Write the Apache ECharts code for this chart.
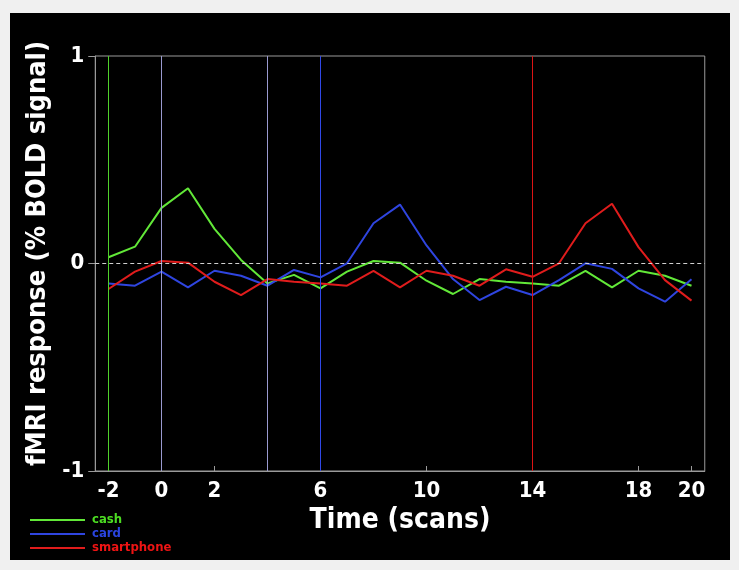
<!DOCTYPE html>
<html>
<head>
<meta charset="utf-8">
<script src="https://cdn.jsdelivr.net/npm/echarts@6/dist/echarts.min.js"></script>
<style>
  html, body { margin: 0; padding: 0; background: #f0f0f0; }
  #chart { position: absolute; left: 10px; top: 13px; width: 720px; height: 547px; background: #000; }
</style>
</head>
<body>
<div id="chart"></div>
<script>
// Time points (scans)
var times = [-2, -1, 0, 1, 2, 3, 4, 5, 6, 7, 8, 9, 10, 11, 12, 13, 14, 15, 16, 17, 18, 19, 20];
// fMRI responses (% BOLD signal)
var cash = [0.03, 0.081, 0.268, 0.363, 0.167, 0.017, -0.096, -0.055, -0.12, -0.039, 0.012, 0.004, -0.083, -0.147, -0.075, -0.088, -0.096, -0.107, -0.036, -0.115, -0.035, -0.059, -0.107];
var card = [-0.096, -0.107, -0.039, -0.115, -0.035, -0.059, -0.107, -0.031, -0.067, 0.001, 0.194, 0.284, 0.087, -0.075, -0.176, -0.112, -0.152, -0.08, 0.001, -0.026, -0.12, -0.184, -0.076];
var smartphone = [-0.123, -0.039, 0.012, 0.004, -0.088, -0.152, -0.075, -0.088, -0.096, -0.107, -0.036, -0.115, -0.035, -0.059, -0.107, -0.028, -0.064, 0.001, 0.194, 0.288, 0.079, -0.08, -0.179];
// Event markers (vertical lines)
var markerTimes = [-2, 0, 4, 6, 14];
var markerColors = ['#4fd22a', '#9a9ad0', '#9a9ad0', '#3048e8', '#dc1414'];
// Tick labels
var xTicks = [-2, 0, 2, 6, 10, 14, 18, 20];
var seriesNames = ['cash', 'card', 'smartphone'];
var seriesColors = ['#62e838', '#2f45e0', '#e01c1c'];
var legendTextColors = ['#4cdc22', '#2a44e0', '#ee1414'];

function pairs(ys) { return times.map(function (t, i) { return [t, ys[i]]; }); }

var FONT = '"DejaVu Sans Condensed", "DejaVu Sans", sans-serif';
var chart = echarts.init(document.getElementById('chart'));

var markData = markerTimes.map(function (t, i) {
  return { xAxis: t, lineStyle: { color: markerColors[i], width: 1, type: 'solid' } };
});
markData.push({ yAxis: 0, lineStyle: { color: '#d0d0d0', width: 1, type: [4, 3] } });

var dataSeries = [cash, card, smartphone].map(function (ys, i) {
  return {
    name: seriesNames[i], type: 'line', data: pairs(ys), symbol: 'none', z: 3,
    lineStyle: { color: seriesColors[i], width: 2 }, itemStyle: { color: seriesColors[i] }
  };
});

chart.setOption({
  animation: false,
  backgroundColor: '#000',
  grid: { left: 85.25, right: 25.25, top: 43, bottom: 89, show: true, borderColor: '#9a9a9a', borderWidth: 1, backgroundColor: 'transparent' },
  legend: {
    orient: 'vertical', left: 20, top: 500, padding: 0, itemGap: 0, itemWidth: 55, itemHeight: 2, icon: 'rect',
    data: seriesNames.map(function (n, i) {
      return { name: n, textStyle: { color: legendTextColors[i] } };
    }),
    textStyle: { fontFamily: FONT, fontWeight: 'bold', fontSize: 13, lineHeight: 14, padding: [0, 0, 0, 2] }
  },
  xAxis: {
    type: 'value', min: -2.5, max: 20.5,
    name: 'Time (scans)', nameLocation: 'middle', nameGap: 36,
    nameTextStyle: { color: '#fff', fontFamily: FONT, fontWeight: 'bold', fontSize: 28 },
    axisLine: { show: true, onZero: false, lineStyle: { color: '#9a9a9a' } },
    axisTick: { show: true, inside: true, length: 5, customValues: xTicks, lineStyle: { color: '#9a9a9a' } },
    axisLabel: { customValues: xTicks, color: '#fff', fontFamily: FONT, fontWeight: 'bold', fontSize: 22, margin: 9 },
    splitLine: { show: false }
  },
  yAxis: {
    type: 'value', min: -1, max: 1, interval: 1,
    name: 'fMRI response (% BOLD signal)', nameLocation: 'middle', nameGap: 33,
    nameTextStyle: { color: '#fff', fontFamily: FONT, fontWeight: 'bold', fontSize: 27, padding: [0, 0, 0, 20] },
    axisLine: { show: true, onZero: false, lineStyle: { color: '#9a9a9a' } },
    axisTick: { show: true, inside: false, length: 7, lineStyle: { color: '#9a9a9a' } },
    axisLabel: { color: '#fff', fontFamily: FONT, fontWeight: 'bold', fontSize: 22, margin: 11 },
    splitLine: { show: false }
  },
  series: [{
    name: 'markers', type: 'line', data: [], z: 1, silent: true,
    markLine: { silent: true, symbol: ['none', 'none'], label: { show: false }, data: markData, animation: false }
  }].concat(dataSeries)
});
</script>
</body>
</html>
